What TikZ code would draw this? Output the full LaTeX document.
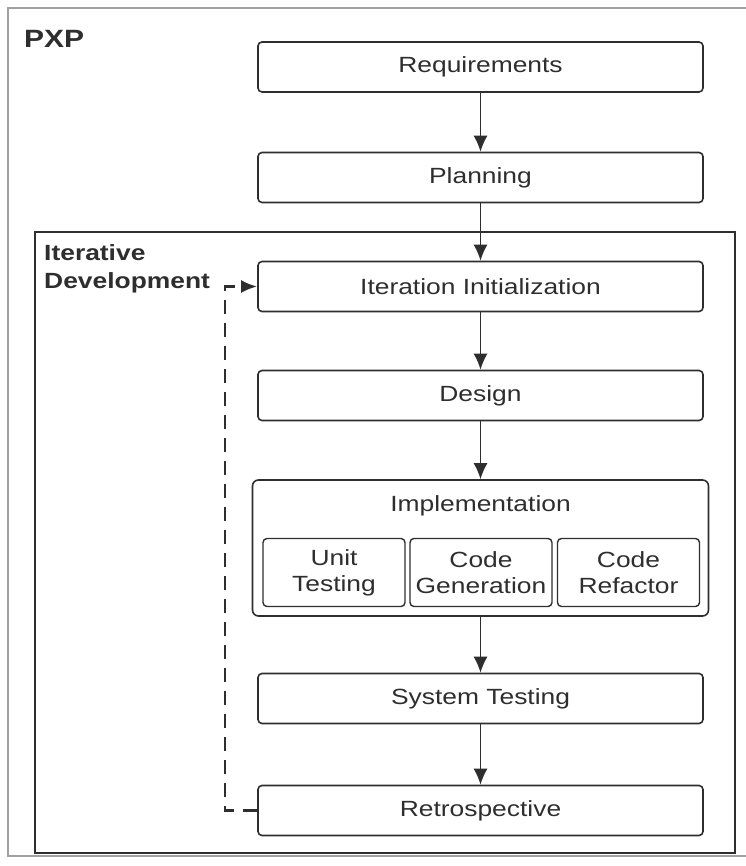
\documentclass[tikz,border=0pt]{standalone}
\usepackage{fontspec}
\setmainfont{Liberation Sans}[FakeStretch=1.2]
\usetikzlibrary{arrows.meta}
\definecolor{ink}{HTML}{2E2E2E}
\definecolor{framegray}{HTML}{A0A0A0}
\begin{document}
\begin{tikzpicture}[x=1pt,y=-1pt,
  box/.style={draw=ink, line width=1.6pt, rounded corners=4pt, minimum width=445pt, minimum height=50pt,
    font=\fontsize{22}{26}\selectfont, text=ink, inner sep=0pt},
  subbox/.style={draw=ink, line width=1.4pt, rounded corners=4pt, minimum width=142pt, minimum height=68pt,
    font=\fontsize{22}{26}\selectfont, text=ink, inner sep=0pt, align=center},
  arr/.style={draw=ink, line width=1.5pt, -{Latex[length=16pt,width=14pt]}},
  loopback/.style={draw=ink, line width=2.6pt, dash pattern=on 14pt off 9pt, -{Latex[length=16pt,width=13pt]}},
  title/.style={font=\bfseries\fontsize{22}{28}\selectfont, text=ink, inner sep=0pt, align=left}]
\useasboundingbox (0,0) rectangle (745,866);
% outer frame
\draw[framegray, line width=1.2pt] (746,8) -- (8,8) -- (8,856) -- (746,856);
\node[title, anchor=base west, font=\bfseries\fontsize{25}{28}\selectfont] (pxp) at (24,48) {PXP};
% inner frame
\draw[ink, line width=2.4pt] (35,232) rectangle (735,853);
\node[title, anchor=north west] (itdev) at (44,244) {Iterative\\Development};
% boxes
\node[box] (req) at (480.5,67) {Requirements};
\node[box] (plan) at (480.5,177.5) {Planning};
\node[box] (iter) at (480.5,286.5) {Iteration Initialization};
\node[box] (design) at (480.5,395.5) {Design};
\node[draw=ink, line width=1.6pt, rounded corners=6pt, minimum width=456pt, minimum height=136pt, inner sep=0pt] (impl) at (480.5,548) {};
\node[font=\fontsize{22}{26}\selectfont, text=ink, inner sep=0pt] (impltxt) at (480.5,506) {Implementation};
\node[subbox] (unit) at (334,572.5) {Unit\\Testing};
\node[subbox] (gen) at (481,572.5) {Code\\Generation};
\node[subbox] (refac) at (628.5,572.5) {Code\\Refactor};
\node[box] (sys) at (480.5,698.5) {System Testing};
\node[box] (retro) at (480.5,810.5) {Retrospective};
% arrows
\draw[arr] (req) -- (plan);
\draw[arr] (plan) -- (iter);
\draw[arr] (iter) -- (design);
\draw[arr] (design) -- (impl);
\draw[arr] (impl) -- (sys);
\draw[arr] (sys) -- (retro);
\coordinate (lb) at (225,810.5);
\draw[loopback] (retro.west) -- (lb) |- (iter.west);
\end{tikzpicture}
\end{document}
